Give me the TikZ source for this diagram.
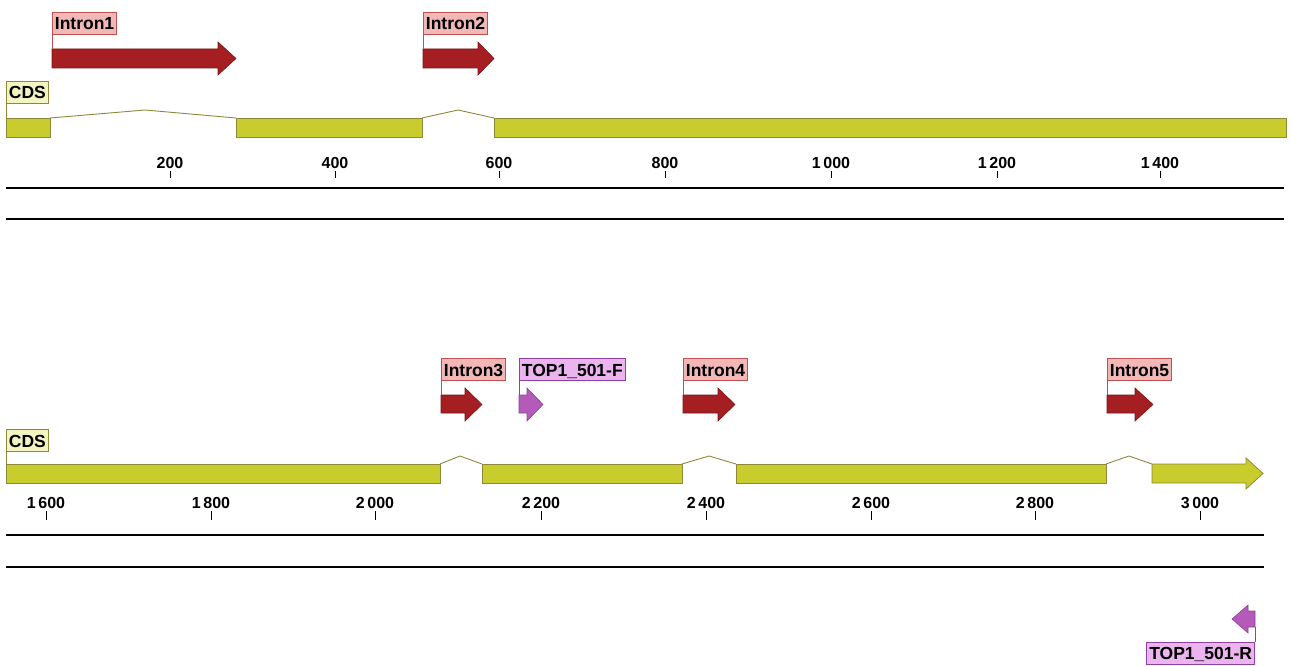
\documentclass[tikz,border=0pt]{standalone}
\usepackage{fontspec}
\setmainfont{Liberation Sans}
\definecolor{cdsfill}{HTML}{C8CC2C}
\definecolor{cdsedge}{HTML}{8C8A3A}
\definecolor{cdslab}{HTML}{F4F4C0}
\definecolor{intfill}{HTML}{A51E22}
\definecolor{intedge}{HTML}{7A1414}
\definecolor{intlab}{HTML}{F2B8B8}
\definecolor{intlabedge}{HTML}{C05050}
\definecolor{prfill}{HTML}{B45AB8}
\definecolor{predge}{HTML}{9040A0}
\definecolor{prlab}{HTML}{EBB4EE}
\tikzset{
  cdsbar/.style={fill=cdsfill,draw=cdsedge,line width=0.8pt},
  hat/.style={draw=cdsedge,line width=0.9pt},
  intarrow/.style={fill=intfill,draw=intedge,line width=0.6pt},
  prarrow/.style={fill=prfill,draw=predge,line width=0.6pt},
  flag/.style={draw,line width=0.8pt,font=\bfseries\fontsize{17.5}{17.5}\selectfont,
    inner xsep=2.5pt,inner ysep=0pt,minimum height=22pt,text height=12.8pt,text depth=0pt},
  cdsflag/.style={flag,fill=cdslab,draw=cdsedge},
  intflag/.style={flag,fill=intlab,draw=intlabedge},
  prflag/.style={flag,fill=prlab,draw=predge},
  pole/.style={line width=0.8pt},
  ticklab/.style={font=\bfseries\fontsize{16}{16}\selectfont,inner sep=0pt,anchor=south},
  tick/.style={line width=1pt},
  axis/.style={line width=2.8pt,black}
}
\begin{document}
\begin{tikzpicture}[x=1pt,y=-1pt]
\useasboundingbox (0,0) rectangle (1292,666);
% ===== Row 1 =====
\draw[cdsbar] (6,118) rectangle (50,137);
\draw[cdsbar] (236,118) rectangle (422,137);
\draw[cdsbar] (494,118) rectangle (1286,137);
\draw[hat] (50,118) -- (145,110) -- (236,118);
\draw[hat] (422,118) -- (458,110) -- (494,118);
\node[cdsflag,anchor=south west] (cds1) at (6,104) {CDS};
\draw[pole,cdsedge] (cds1.south west) -- (6,118);
% intron arrows
\draw[intarrow] (52,49) -- (218,49) -- (218,42) -- (236,58.5) -- (218,75) -- (218,68) -- (52,68) -- cycle;
\node[intflag,anchor=south west] (i1) at (52,35) {Intron1};
\draw[pole,intlabedge] (i1.south west) -- (52,49);
\draw[intarrow] (423,49) -- (478,49) -- (478,42) -- (494,58.5) -- (478,75) -- (478,68) -- (423,68) -- cycle;
\node[intflag,anchor=south west] (i2) at (423,35) {Intron2};
\draw[pole,intlabedge] (i2.south west) -- (423,49);
% ticks
\foreach \x/\t in {170/200,335/400,499/600,665/800,831/1\,000,997/1\,200,1160/1\,400}{
  \node[ticklab] at (\x,169) {\t};
  \draw[tick] (\x,171) -- (\x,178);
}
\draw[axis] (6,188) -- (1284,188);
\draw[axis] (6,219) -- (1284,219);
% ===== Row 2 =====
\draw[cdsbar] (6,464) rectangle (440,483);
\draw[cdsbar] (482,464) rectangle (682,483);
\draw[cdsbar] (736,464) rectangle (1106,483);
\draw[cdsbar] (1152,464) -- (1246,464) -- (1246,458) -- (1263,473.5) -- (1246,489) -- (1246,483) -- (1152,483) -- cycle;
\draw[hat] (440,464) -- (460,456) -- (482,464);
\draw[hat] (682,464) -- (709,456) -- (736,464);
\draw[hat] (1106,464) -- (1129,456) -- (1152,464);
\node[cdsflag,anchor=south west] (cds2) at (6,452) {CDS};
\draw[pole,cdsedge] (cds2.south west) -- (6,464);
% intron 3,4,5
\draw[intarrow] (441,395) -- (465,395) -- (465,388) -- (482,404.5) -- (465,421) -- (465,413) -- (441,413) -- cycle;
\node[intflag,anchor=south west] (i3) at (441,381) {Intron3};
\draw[pole,intlabedge] (i3.south west) -- (441,395);
\draw[intarrow] (683,395) -- (718,395) -- (718,388) -- (735,404.5) -- (718,421) -- (718,413) -- (683,413) -- cycle;
\node[intflag,anchor=south west] (i4) at (683,381) {Intron4};
\draw[pole,intlabedge] (i4.south west) -- (683,395);
\draw[intarrow] (1107,395) -- (1135,395) -- (1135,388) -- (1153,404.5) -- (1135,421) -- (1135,413) -- (1107,413) -- cycle;
\node[intflag,anchor=south west] (i5) at (1107,381) {Intron5};
\draw[pole,intlabedge] (i5.south west) -- (1107,395);
% primers
\draw[prarrow] (519,395) -- (527,395) -- (527,388) -- (543,404.5) -- (527,421) -- (527,413) -- (519,413) -- cycle;
\node[prflag,anchor=south west] (pf) at (519,381) {TOP1\_501-F};
\draw[pole,predge] (pf.south west) -- (519,395);
\draw[prarrow] (1255,611) -- (1248,611) -- (1248,605) -- (1232,619) -- (1248,633) -- (1248,627) -- (1255,627) -- cycle;
\node[prflag,anchor=north east] (pr) at (1255,642) {TOP1\_501-R};
\draw[pole,predge] (pr.north east) -- (1255,627);
% ticks row 2
\foreach \x/\t in {46/1\,600,211/1\,800,375/2\,000,541/2\,200,706/2\,400,871/2\,600,1035/2\,800,1200/3\,000}{
  \node[ticklab] at (\x,509) {\t};
  \draw[tick] (\x,511) -- (\x,520);
}
\draw[axis] (6,535) -- (1264,535);
\draw[axis] (6,567) -- (1264,567);
\end{tikzpicture}
\end{document}
